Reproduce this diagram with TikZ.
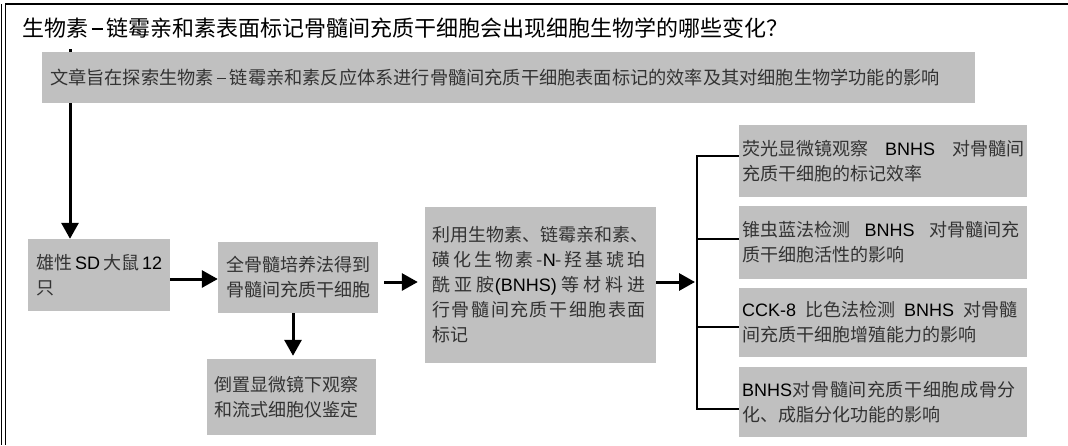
\documentclass[tikz,border=0pt]{standalone}
\usepackage{fontspec}
\setmainfont{Noto Sans CJK SC}
\newfontfamily\lat{Liberation Sans}
\usetikzlibrary{arrows.meta}
\definecolor{boxgray}{HTML}{C0C0C0}
\definecolor{textgray}{HTML}{333333}
\pgfdeclarelayer{bg}
\pgfsetlayers{bg,main}
\newcommand\bodyfont{\fontsize{18}{25}\selectfont}
\newcommand\jl[2]{\leavevmode\hbox to #1{#2}}
\newcommand\La[1]{{\lat\color{black}#1}}
\newcommand\wh[1]{\makebox[#1]{\raisebox{0.3em}{\rule{0.5em}{0.07em}}}}
\begin{document}
\begin{tikzpicture}[x=1pt,y=-1pt,
  gbox/.style n args={3}{fill=boxgray, minimum width=#1, minimum height=#2,
    text width=#3, align=left, inner sep=0pt, font=\bodyfont, text=textgray},
  arr/.style={line width=3pt, -{Triangle[length=16pt,width=17pt]}},
  brk/.style={line width=2pt},
  frame/.style={line width=1.4pt}]
\useasboundingbox (0,0) rectangle (1068,445);
% frame
\coordinate (ftl) at (5.5,4);
\coordinate (ftr) at (1068,4);
\coordinate (fbl) at (5.5,445);
\coordinate (fbl2) at (1.5,445);
\coordinate (ftl2) at (1.5,4);
\draw[frame] (ftr) -- (ftl) -- (fbl);
\draw[line width=0.9pt] (ftl2) -- (fbl2);
% title
\node[anchor=west, inner sep=0pt, font=\fontsize{22}{26}\selectfont] (title) at (22,28)
  {生物素\wh{18pt}链霉亲和素表面标记骨髓间充质干细胞会出现细胞生物学的哪些变化？};
% boxes
\node[gbox={933}{51}{917}, font=\fontsize{18.2}{25}\selectfont] (top) at (508.5,77.5)
  {文章旨在探索生物素\wh{16pt}链霉亲和素反应体系进行骨髓间充质干细胞表面标记的效率及其对细胞生物学功能的影响};
\node[gbox={142}{72}{126}] (b1) at (99,275)
  {雄性\,\La{SD}\,大鼠\,\La{12}\\只};
\node[gbox={160}{71}{144}] (b2) at (298,277.5)
  {全骨髓培养法得到\\骨髓间充质干细胞};
\node[gbox={169}{76}{155}] (b3) at (291.5,397)
  {倒置显微镜下观察\\和流式细胞仪鉴定};
\node[gbox={231}{156}{216}] (b4) at (540.5,285)
  {\jl{213pt}{利\hfil 用\hfil 生\hfil 物\hfil 素\hfil 、\hfil 链\hfil 霉\hfil 亲\hfil 和\hfil 素\hfil 、}\\
   \jl{213pt}{磺\hfil 化\hfil 生\hfil 物\hfil 素\hfil -\La{N}-\hfil 羟\hfil 基\hfil 琥\hfil 珀}\\
   \jl{213pt}{酰\hfil 亚\hfil 胺\La{(BNHS)}\hfil 等\hfil 材\hfil 料\hfil 进}\\
   \jl{213pt}{行\hfil 骨\hfil 髓\hfil 间\hfil 充\hfil 质\hfil 干\hfil 细\hfil 胞\hfil 表\hfil 面}\\
   标记};
\node[gbox={288}{72}{282}] (r1) at (883,161)
  {\jl{282pt}{荧光显微镜观察\hfil\La{BNHS}\hfil 对骨髓间}\\充质干细胞的标记效率};
\node[gbox={288}{73}{282}] (r2) at (883,242.5)
  {\jl{277pt}{锥虫蓝法检测\hfil\La{BNHS}\hfil 对骨髓间充}\\质干细胞活性的影响};
\node[gbox={288}{69}{282}] (r3) at (883,322.5)
  {\jl{275pt}{\La{CCK-8}\hfil 比色法检测\hfil\La{BNHS}\hfil 对骨髓}\\间充质干细胞增殖能力的影响};
\node[gbox={288}{70}{282}] (r4) at (883,402)
  {\jl{274pt}{\La{BNHS}\hfil 对\hfil 骨\hfil 髓\hfil 间\hfil 充\hfil 质\hfil 干\hfil 细\hfil 胞\hfil 成\hfil 骨\hfil 分}\\化、成脂分化功能的影响};
% connectors
\coordinate (t1) at (70,49);
\begin{pgfonlayer}{bg}
\draw[arr] (t1) -- (t1 |- b1.north);
\end{pgfonlayer}
\coordinate (y1) at (0,279);
\draw[arr] (b1.east |- y1) -- (b2.west |- y1);
\coordinate (y2) at (0,282);
\draw[arr, shorten <=6pt, shorten >=7pt] (b2.east |- y2) -- (b4.west |- y2);
\coordinate (x3) at (293,0);
\draw[arr, shorten >=3pt] (x3 |- b2.south) -- (x3 |- b3.north);
\coordinate (bx) at (697,0);
\draw[arr, shorten >=2pt] (b4.east |- y2) -- (bx |- y2);
\coordinate (ya) at (0,156);
\coordinate (yb) at (0,239);
\coordinate (yc) at (0,327);
\coordinate (yd) at (0,409);
\draw[brk] (r1.west |- ya) -- (bx |- ya) -- (bx |- yd) -- (r4.west |- yd);
\draw[brk] (bx |- yb) -- (r2.west |- yb);
\draw[brk] (bx |- yc) -- (r3.west |- yc);
\end{tikzpicture}
\end{document}
